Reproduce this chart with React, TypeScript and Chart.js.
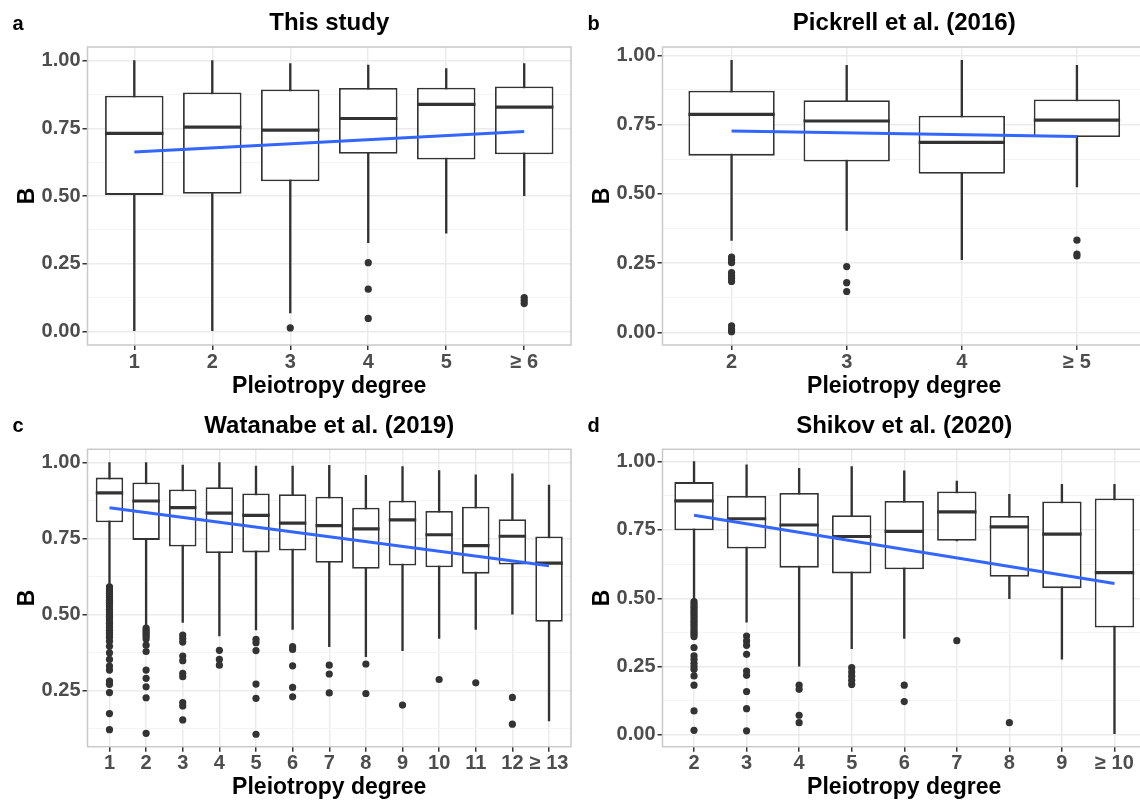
import React, { useEffect, useRef } from 'react';
import { Chart, registerables } from 'chart.js';

Chart.register(...registerables);

const FONT = "'Liberation Sans', Arial, Helvetica, sans-serif";
const X_TITLE = 'Pleiotropy degree';
const Y_TITLE = 'B';

// ---------- Panel a: This study ----------
const aTitle = 'This study';
const aCategories = ['1', '2', '3', '4', '5', '≥ 6'];
const aLower = [0.0, 0.0, 0.068, 0.328, 0.363, 0.501];
const aQ1 = [0.504, 0.508, 0.554, 0.656, 0.635, 0.654];
const aMedian = [0.731, 0.754, 0.743, 0.786, 0.838, 0.828];
const aQ3 = [0.87, 0.882, 0.893, 0.899, 0.9, 0.904];
const aUpper = [1.0, 1.0, 0.989, 0.983, 0.97, 0.989];
const aOutliers = [[], [], [0.013], [0.254, 0.156, 0.048], [], [0.125, 0.114, 0.103]];
const aTrend = [0.662, 0.738];
const aYTicks = [0, 0.25, 0.5, 0.75, 1.0];
const aYRange = [-0.05, 1.05];

// ---------- Panel b: Pickrell et al. (2016) ----------
const bTitle = 'Pickrell et al. (2016)';
const bCategories = ['2', '3', '4', '≥ 5'];
const bLower = [0.332, 0.368, 0.263, 0.525];
const bQ1 = [0.638, 0.617, 0.573, 0.705];
const bMedian = [0.787, 0.763, 0.686, 0.766];
const bQ3 = [0.872, 0.838, 0.782, 0.841];
const bUpper = [0.982, 0.964, 0.982, 0.964];
const bOutliers = [
  [0.272, 0.262, 0.252, 0.216, 0.205, 0.195, 0.184, 0.024, 0.012, 0.003],
  [0.238, 0.18, 0.148],
  [],
  [0.333, 0.283, 0.276],
];
const bTrend = [0.727, 0.707];
const bYTicks = [0, 0.25, 0.5, 0.75, 1.0];
const bYRange = [-0.045, 1.03];

// ---------- Panel c: Watanabe et al. (2019) ----------
const cTitle = 'Watanabe et al. (2019)';
const cCategories = ['1', '2', '3', '4', '5', '6', '7', '8', '9', '10', '11', '12', '≥ 13'];
const cLower = [0.597, 0.461, 0.475, 0.43, 0.45, 0.452, 0.395, 0.362, 0.382, 0.422, 0.452, 0.502, 0.151];
const cQ1 = [0.804, 0.746, 0.724, 0.703, 0.705, 0.711, 0.671, 0.651, 0.662, 0.656, 0.635, 0.665, 0.477];
const cMedian = [0.901, 0.874, 0.852, 0.834, 0.827, 0.801, 0.793, 0.782, 0.812, 0.763, 0.727, 0.758, 0.67];
const cQ3 = [0.951, 0.935, 0.912, 0.919, 0.899, 0.896, 0.888, 0.852, 0.875, 0.841, 0.855, 0.814, 0.757];
const cUpper = [1.0, 1.0, 0.992, 1.0, 0.989, 0.989, 0.991, 0.958, 0.987, 0.974, 0.96, 0.963, 0.926];
const cOutliers = [
  [0.592, 0.585, 0.578, 0.571, 0.563, 0.556, 0.548, 0.541, 0.533, 0.526, 0.518, 0.51, 0.503, 0.495, 0.487,
    0.48, 0.472, 0.464, 0.457, 0.449, 0.441, 0.434, 0.426, 0.413, 0.396, 0.375, 0.353, 0.331, 0.318, 0.282,
    0.271, 0.244, 0.175, 0.122],
  [0.456, 0.449, 0.442, 0.435, 0.428, 0.42, 0.4, 0.379, 0.318, 0.291, 0.263, 0.227, 0.11],
  [0.433, 0.422, 0.41, 0.364, 0.349, 0.307, 0.296, 0.211, 0.2, 0.154],
  [0.383, 0.353, 0.334],
  [0.419, 0.408, 0.382, 0.272, 0.225, 0.107],
  [0.395, 0.386, 0.332, 0.261, 0.23],
  [0.334, 0.305, 0.243],
  [0.338, 0.241],
  [0.203],
  [0.287],
  [0.276],
  [0.228, 0.14],
  [],
];
const cTrend = [0.852, 0.661];
const cYTicks = [0.25, 0.5, 0.75, 1.0];
const cYRange = [0.066, 1.044];

// ---------- Panel d: Shikov et al. (2020) ----------
const dTitle = 'Shikov et al. (2020)';
const dCategories = ['2', '3', '4', '5', '6', '7', '8', '9', '≥ 10'];
const dLower = [0.495, 0.413, 0.252, 0.316, 0.353, 0.71, 0.499, 0.277, 0.005];
const dQ1 = [0.749, 0.682, 0.612, 0.591, 0.606, 0.71, 0.579, 0.537, 0.393];
const dMedian = [0.856, 0.791, 0.768, 0.726, 0.745, 0.816, 0.761, 0.735, 0.594];
const dQ3 = [0.925, 0.874, 0.885, 0.804, 0.856, 0.891, 0.801, 0.854, 0.865];
const dUpper = [1.0, 0.988, 0.975, 0.982, 0.966, 0.929, 0.88, 0.917, 0.917];
const dOutliers = [
  [0.488, 0.48, 0.472, 0.464, 0.456, 0.448, 0.44, 0.432, 0.424, 0.416, 0.408, 0.4, 0.392, 0.384, 0.376,
    0.368, 0.36, 0.32, 0.289, 0.276, 0.262, 0.25, 0.24, 0.216, 0.182, 0.088, 0.017],
  [0.362, 0.344, 0.328, 0.295, 0.234, 0.218, 0.159, 0.096, 0.015],
  [0.182, 0.167, 0.072, 0.045],
  [0.246, 0.23, 0.215, 0.2, 0.185],
  [0.182, 0.122],
  [0.345],
  [0.045],
  [],
  [],
];
const dTrend = [0.804, 0.554];
const dYTicks = [0, 0.25, 0.5, 0.75, 1.0];
const dYRange = [-0.043, 1.045];

type PanelSpec = {
  letter: string;
  title: string;
  categories: string[];
  lower: number[];
  q1: number[];
  median: number[];
  q3: number[];
  upper: number[];
  outliers: number[][];
  trend: number[];
  yTicks: number[];
  yRange: number[];
  titlePad: { top: number; bottom: number };
  xAxisHeight: number;
  letterY: number;
};

const BOX_WIDTH = 0.75;
const INK = '#333333';

function buildConfig(p: PanelSpec) {
  const n = p.categories.length;
  const idx = p.categories.map((_, i) => i + 1);
  const step = p.yTicks[1] - p.yTicks[0];
  const minor: number[] = [];
  [...p.yTicks, p.yTicks[p.yTicks.length - 1] + step].forEach((t) => {
    const m = t - step / 2;
    if (m > p.yRange[0] && m < p.yRange[1]) minor.push(m);
  });
  const allY = [...p.yTicks, ...minor].sort((a, b) => a - b);
  const isMajor = (v: number) => p.yTicks.some((t) => Math.abs(t - v) < 1e-9);

  const halfBoxPx = (ctx: any) => {
    const s = ctx.chart.scales.x;
    if (!s) return 0;
    return Math.abs(s.getPixelForValue(1 + BOX_WIDTH / 2) - s.getPixelForValue(1));
  };

  const framePlugin = {
    id: 'frame',
    afterDatasetsDraw(chart: any) {
      const { ctx, chartArea } = chart;
      ctx.save();
      ctx.strokeStyle = '#c9c9c9';
      ctx.lineWidth = 1.5;
      ctx.strokeRect(chartArea.left, chartArea.top, chartArea.right - chartArea.left, chartArea.bottom - chartArea.top);
      ctx.restore();
    },
  };
  const letterPlugin = {
    id: 'letter',
    afterDraw(chart: any) {
      const ctx = chart.ctx;
      ctx.save();
      ctx.fillStyle = '#000';
      ctx.font = `bold 20px ${FONT}`;
      ctx.textAlign = 'left';
      ctx.textBaseline = 'alphabetic';
      ctx.fillText(p.letter, 12.5, p.letterY);
      ctx.restore();
    },
  };

  return {
    type: 'bar',
    data: {
      datasets: [
        {
          type: 'line',
          label: 'trend',
          data: [
            { x: 1, y: p.trend[0] },
            { x: n, y: p.trend[1] },
          ],
          borderColor: '#3366FF',
          borderWidth: 3,
          pointRadius: 0,
          fill: false,
          tension: 0,
          order: 0,
        },
        {
          type: 'scatter',
          label: 'outliers',
          data: p.outliers.flatMap((arr, i) => arr.map((v) => ({ x: i + 1, y: v }))),
          pointRadius: 3.6,
          pointBackgroundColor: INK,
          backgroundColor: INK,
          pointBorderWidth: 0,
          borderWidth: 0,
          order: 1,
        },
        {
          type: 'scatter',
          label: 'median',
          data: p.median.map((v, i) => ({ x: i + 1, y: v })),
          pointStyle: 'line',
          pointRadius: halfBoxPx,
          pointBorderColor: INK,
          borderColor: INK,
          pointBorderWidth: 3.2,
          order: 2,
        },
        {
          type: 'bar',
          label: 'box',
          data: idx.map((x, i) => ({ x, y: [p.q1[i], p.q3[i]] })),
          backgroundColor: '#ffffff',
          borderColor: INK,
          borderWidth: 1.8,
          borderSkipped: false,
          grouped: false,
          barPercentage: BOX_WIDTH,
          categoryPercentage: 1,
          order: 3,
        },
        {
          type: 'bar',
          label: 'whisker',
          data: idx.map((x, i) => ({ x, y: [p.lower[i], p.upper[i]] })),
          backgroundColor: INK,
          borderWidth: 0,
          grouped: false,
          maxBarThickness: 1.7,
          barPercentage: 1,
          categoryPercentage: 1,
          order: 4,
        },
      ],
    },
    options: {
      responsive: false,
      animation: false,
      events: [],
      layout: { padding: { left: 0, right: 2.5, top: 0, bottom: 0 } },
      plugins: {
        legend: { display: false },
        tooltip: { enabled: false },
        title: {
          display: true,
          text: p.title,
          fullSize: false,
          color: '#000',
          font: { family: FONT, size: 24, weight: 'bold', lineHeight: 1.2 },
          padding: p.titlePad,
        },
      },
      scales: {
        x: {
          type: 'linear',
          min: 0.4,
          max: n + 0.6,
          offset: false,
          afterBuildTicks: (s: any) => {
            s.ticks = idx.map((v) => ({ value: v }));
          },
          afterFit: (s: any) => {
            s.height = p.xAxisHeight;
          },
          ticks: {
            autoSkip: false,
            maxRotation: 0,
            minRotation: 0,
            padding: 0,
            color: '#4d4d4d',
            font: { family: FONT, size: 20, weight: 'bold' },
            callback: (v: number) => p.categories[Math.round(v) - 1] ?? '',
          },
          grid: {
            offset: false,
            color: '#ebebeb',
            lineWidth: 1.5,
            tickColor: INK,
            tickWidth: 1.5,
            tickLength: 5,
          },
          border: { display: false },
          title: {
            display: true,
            text: X_TITLE,
            color: '#000',
            font: { family: FONT, size: 23, weight: 'bold', lineHeight: 1.2 },
            padding: { top: 0, bottom: 0 },
          },
        },
        y: {
          type: 'linear',
          min: p.yRange[0],
          max: p.yRange[1],
          afterBuildTicks: (s: any) => {
            s.ticks = allY.map((v) => ({ value: v }));
          },
          afterFit: (s: any) => {
            s.width = 87.5;
          },
          ticks: {
            autoSkip: false,
            padding: 2,
            color: '#4d4d4d',
            font: { family: FONT, size: 20, weight: 'bold' },
            callback: (v: number) => (isMajor(v) ? v.toFixed(2) : ''),
          },
          grid: {
            color: (ctx: any) => (ctx.tick && isMajor(ctx.tick.value) ? '#ebebeb' : '#f4f4f4'),
            lineWidth: (ctx: any) => (ctx.tick && isMajor(ctx.tick.value) ? 1.5 : 1),
            tickColor: (ctx: any) => (ctx.tick && isMajor(ctx.tick.value) ? INK : 'rgba(0,0,0,0)'),
            tickWidth: 1.5,
            tickLength: 5,
          },
          border: { display: false },
          title: {
            display: true,
            text: Y_TITLE,
            color: '#000',
            font: { family: FONT, size: 23, weight: 'bold', lineHeight: 1.2 },
            padding: { top: 13.5, bottom: 0 },
          },
        },
      },
    },
    plugins: [framePlugin, letterPlugin],
  };
}

const TOP_PAD = { top: 9.2, bottom: 9 };
const BOTTOM_PAD = { top: 11.9, bottom: 8.6 };

const panels: { spec: PanelSpec; left: number; top: number; width: number; height: number }[] = [
  {
    spec: { letter: 'a', title: aTitle, categories: aCategories, lower: aLower, q1: aQ1, median: aMedian, q3: aQ3, upper: aUpper, outliers: aOutliers, trend: aTrend, yTicks: aYTicks, yRange: aYRange, titlePad: TOP_PAD, xAxisHeight: 55, letterY: 29.5 },
    left: 0, top: 0, width: 575, height: 400,
  },
  {
    spec: { letter: 'b', title: bTitle, categories: bCategories, lower: bLower, q1: bQ1, median: bMedian, q3: bQ3, upper: bUpper, outliers: bOutliers, trend: bTrend, yTicks: bYTicks, yRange: bYRange, titlePad: TOP_PAD, xAxisHeight: 55, letterY: 29.5 },
    left: 575, top: 0, width: 575, height: 400,
  },
  {
    spec: { letter: 'c', title: cTitle, categories: cCategories, lower: cLower, q1: cQ1, median: cMedian, q3: cQ3, upper: cUpper, outliers: cOutliers, trend: cTrend, yTicks: cYTicks, yRange: cYRange, titlePad: BOTTOM_PAD, xAxisHeight: 54.3, letterY: 31.7 },
    left: 0, top: 400, width: 575, height: 401,
  },
  {
    spec: { letter: 'd', title: dTitle, categories: dCategories, lower: dLower, q1: dQ1, median: dMedian, q3: dQ3, upper: dUpper, outliers: dOutliers, trend: dTrend, yTicks: dYTicks, yRange: dYRange, titlePad: BOTTOM_PAD, xAxisHeight: 54.3, letterY: 31.7 },
    left: 575, top: 400, width: 575, height: 401,
  },
];

function Panel({ spec, left, top, width, height }: { spec: PanelSpec; left: number; top: number; width: number; height: number }) {
  const ref = useRef<HTMLCanvasElement>(null);
  useEffect(() => {
    if (!ref.current) return;
    const chart = new Chart(ref.current, buildConfig(spec) as any);
    return () => chart.destroy();
  }, [spec]);
  return (
    <canvas
      ref={ref}
      width={width}
      height={height}
      style={{ position: 'absolute', left, top, width, height, display: 'block' }}
    />
  );
}

export default function App() {
  return (
    <div
      style={{
        position: 'fixed',
        left: 0,
        top: 0,
        width: 1140,
        height: 801,
        overflow: 'hidden',
        background: '#ffffff',
      }}
    >
      {panels.map((pn) => (
        <Panel key={pn.spec.letter} {...pn} />
      ))}
    </div>
  );
}
